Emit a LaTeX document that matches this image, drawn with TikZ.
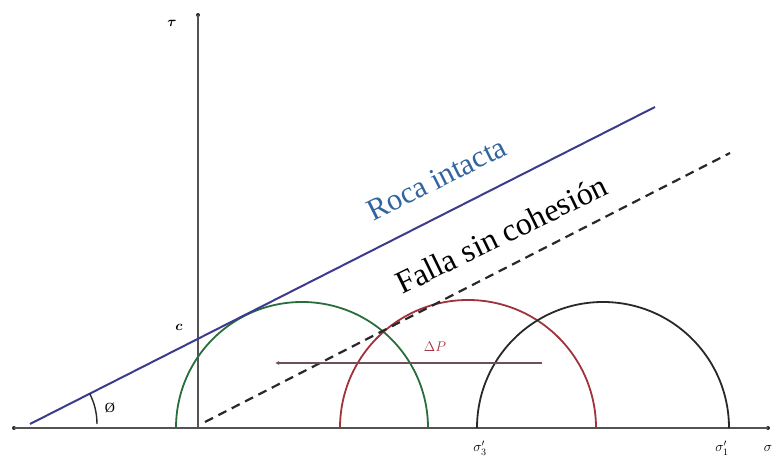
\RequirePackage{fix-cm}
\documentclass[tikz,border=0pt]{standalone}
\usepackage{amsmath}
\usepackage{fontspec}
\setmainfont{Liberation Serif}
\usetikzlibrary{arrows.meta,calc}
\definecolor{navy}{RGB}{60,60,140}
\definecolor{rocablue}{RGB}{50,100,160}
\definecolor{cgreen}{RGB}{40,110,60}
\definecolor{cred}{RGB}{160,50,60}
\definecolor{cblack}{RGB}{40,40,40}
\definecolor{arrgray}{RGB}{110,80,85}
\tikzset{
  axis/.style={line width=1.4pt, color=cblack!80},
  enddot/.style={circle, fill=cblack, inner sep=0pt, minimum size=4pt},
  mohr/.style={line width=1.8pt},
  lbl/.style={inner sep=1pt, font=\fontsize{14}{16}\selectfont},
}
\begin{document}
\begin{tikzpicture}[x=1pt,y=1pt]
\useasboundingbox (0,0) rectangle (780,457);
% axes
\node[enddot] (xl) at (14,29) {};
\node[enddot] (xr) at (768,29) {};
\node[enddot] (yt) at (198,442) {};
\coordinate (o) at (198,29);
\draw[axis] (xl.center) -- (xr.center);
\draw[axis] (o) -- (yt.center);
% circles
\coordinate (gl) at (176,29); \coordinate (rl) at (340,29); \coordinate (bl) at (477,29);
\draw[mohr, cgreen] (gl) arc[start angle=180, end angle=0, radius=126];
\draw[mohr, cred] (rl) arc[start angle=180, end angle=0, radius=128];
\draw[mohr, cblack] (bl) arc[start angle=180, end angle=0, radius=126];
% envelopes
\coordinate (b0) at (30,33); \coordinate (b1) at (655,350);
\draw[line width=2pt, navy] (b0) -- (b1);
\coordinate (d0) at (205,35); \coordinate (d1) at (730,304);
\draw[line width=2.2pt, cblack, dash pattern=on 9pt off 6pt] (d0) -- (d1);
% angle
\coordinate (a0) at (97,33);
\draw[line width=1.4pt, cblack] (a0) arc[start angle=0, end angle=27, radius=67];
% delta P arrow
\coordinate (p0) at (542,94); \coordinate (p1) at (275,94);
\draw[line width=1.2pt, arrgray, -{Latex[length=4pt,width=4pt]}] (p0) -- (p1);
% labels
\node[lbl] (tau) at (172,434) {$\boldsymbol{\tau}$};
\node[lbl] (c) at (179,130) {$\boldsymbol{c}$};
\node[lbl] (phi) at (110,49) {Ø};
\node[lbl] (s3) at (480,9) {$\sigma_3'$};
\node[lbl] (s1) at (722,9) {$\sigma_1'$};
\node[lbl] (s) at (768,9) {$\sigma$};
\node[lbl, text=cred] (dp) at (435,110) {$\Delta P$};
\node[anchor=base west, rotate=26.6, inner sep=0pt, text=rocablue, font=\fontsize{30.5}{32}\selectfont] (roca) at (373,235) {Roca intacta};
\node[anchor=base west, rotate=26, inner sep=0pt, font=\fontsize{32}{34}\selectfont] (falla) at (402,162) {Falla sin cohesión};
\end{tikzpicture}
\end{document}
